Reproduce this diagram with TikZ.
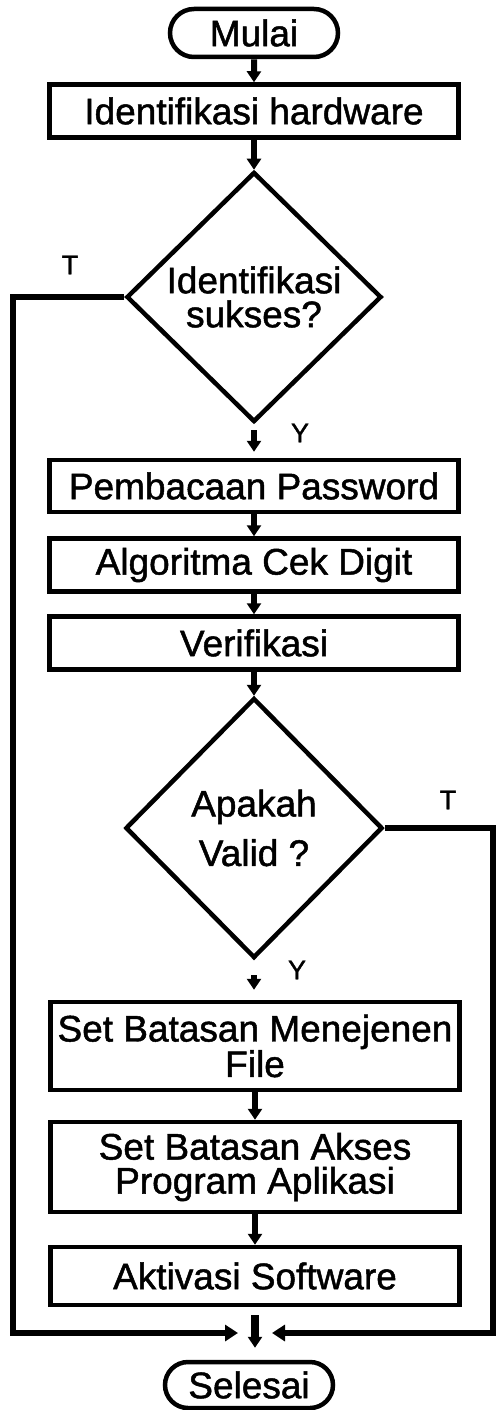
\documentclass[tikz,border=0pt]{standalone}
\usepackage{fontspec}
\setmainfont{Liberation Sans}[FakeBold=1.3]
\usetikzlibrary{shapes, arrows.meta, positioning}

\begin{document}
\begin{tikzpicture}[x=1pt, y=-1pt,
  every node/.style={font=\fontsize{37}{34}\selectfont},
  term/.style={draw, rounded rectangle, line width=4.5pt, minimum width=168pt, minimum height=48pt, inner sep=0pt},
  box/.style={draw, rectangle, line width=4.5pt, minimum width=409pt, inner sep=0pt, align=center},
  cond/.style={draw, diamond, line width=4.5pt, aspect=1, inner sep=0pt, align=center},
  arr/.style={line width=6pt, -{Triangle[width=14pt,length=11pt]}},
  jalur/.style={line width=5.5pt, -{Triangle[width=16pt,length=13pt]}},
  lbl/.style={font=\fontsize{27}{27}\selectfont}]
\useasboundingbox (0,0) rectangle (495,1410);
\node[term] (mulai) at (254,33) {Mulai};
\node[box, minimum height=53pt] (hw) at (254,111) {Identifikasi hardware};
\node[cond, minimum width=255pt, minimum height=250pt] (d1) at (254,297) {Identifikasi\\sukses?};
\node[box, minimum height=52pt] (pass) at (254,486) {Pembacaan Password};
\node[box, minimum height=53pt] (algo) at (254,565) {Algoritma Cek Digit};
\node[box, minimum height=53pt] (veri) at (254,643) {Verifikasi};
\node[cond, minimum width=257pt, minimum height=260pt] (d2) at (254,828) {Apakah\\[14pt]Valid ?};
\node[box, minimum height=88pt] (file) at (255,1046) {Set Batasan Menejenen\\File};
\node[box, minimum height=90pt] (akses) at (255,1167) {Set Batasan Akses\\Program Aplikasi};
\node[box, minimum height=58pt] (aktiv) at (255,1276) {Aktivasi Software};
\node[term, minimum height=46pt] (selesai) at (249,1385) {Selesai};
\coordinate (gabung) at (255,1333);
\node[lbl] (t1) at (70,265) {T};
\node[lbl] (y1) at (300,433) {Y};
\node[lbl] (t2) at (448,800) {T};
\node[lbl] (y2) at (297,970) {Y};
\draw[arr] (mulai) -- (hw);
\draw[arr] (hw) -- (d1);
\draw[arr, shorten <=6pt, shorten >=6pt] (d1) -- (pass);
\draw[arr] (pass) -- (algo);
\draw[arr] (algo) -- (veri);
\draw[arr] (veri) -- (d2);
\draw[arr, shorten <=15pt, shorten >=10pt] (d2.south) -- (d2.south |- file.north);
\draw[arr] (file) -- (akses);
\draw[arr] (akses) -- (aktiv);
\draw[arr, line width=8pt, shorten <=8pt, shorten >=12pt] (aktiv.south) -- (aktiv.south |- selesai.north);
\draw[jalur] (d1.west) -| (13,1333) -- ([xshift=-17pt]gabung);
\draw[jalur] (d2.east) -| (493,1333) -- ([xshift=17pt]gabung);
\end{tikzpicture}
\end{document}
